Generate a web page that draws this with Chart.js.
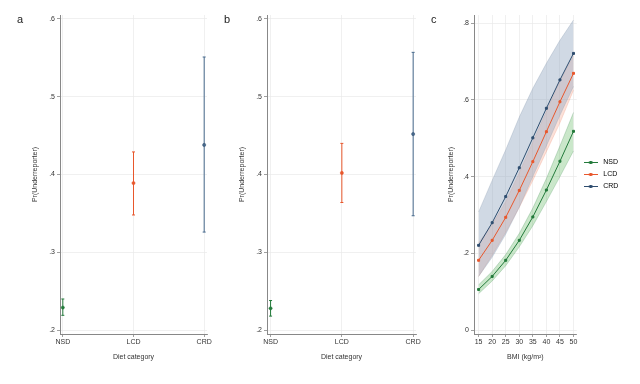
<!DOCTYPE html>
<html>
<head>
<meta charset="utf-8">
<script src="https://cdn.jsdelivr.net/npm/chart.js@4/dist/chart.umd.min.js"></script>
<style>
  body { margin: 0; background: #fff; }
  #wrap { position: relative; width: 640px; height: 384px; font-family: "Liberation Sans", Arial, sans-serif; }
  canvas { position: absolute; top: 0; }
  .lab { position: absolute; top: 13px; font-size: 11px; color: #222; }
</style>
</head>
<body>
<div id="wrap">
  <canvas id="chartA" width="215" height="384" style="left:0px"></canvas>
  <canvas id="chartB" width="215" height="384" style="left:215px"></canvas>
  <canvas id="chartC" width="210" height="384" style="left:430px"></canvas>
  <div class="lab" style="left:17px">a</div>
  <div class="lab" style="left:224px">b</div>
  <div class="lab" style="left:431px">c</div>
</div>
<script>
// 食事カテゴリ
const dietCats = ['NSD', 'LCD', 'CRD'];
// パネルa
const aMean = [0.229, 0.389, 0.438];
const aLow  = [0.219, 0.348, 0.326];
const aHigh = [0.240, 0.429, 0.551];
// パネルb
const bMean = [0.228, 0.402, 0.452];
const bLow  = [0.218, 0.364, 0.347];
const bHigh = [0.238, 0.440, 0.557];
// パネルc
const bmi = [15, 20, 25, 30, 35, 40, 45, 50];
const nsdMean = [0.106, 0.140, 0.182, 0.234, 0.295, 0.365, 0.440, 0.518];
const nsdLow  = [0.095, 0.128, 0.168, 0.217, 0.272, 0.335, 0.400, 0.467];
const nsdHigh = [0.118, 0.153, 0.197, 0.252, 0.318, 0.395, 0.480, 0.567];
const lcdMean = [0.182, 0.234, 0.294, 0.364, 0.439, 0.517, 0.595, 0.669];
const lcdLow  = [0.140, 0.195, 0.255, 0.320, 0.390, 0.465, 0.540, 0.625];
const lcdHigh = [0.228, 0.275, 0.335, 0.410, 0.490, 0.570, 0.650, 0.715];
const crdMean = [0.221, 0.280, 0.348, 0.423, 0.501, 0.578, 0.652, 0.721];
const crdLow  = [0.140, 0.190, 0.250, 0.320, 0.400, 0.480, 0.560, 0.635];
const crdHigh = [0.308, 0.390, 0.470, 0.555, 0.630, 0.695, 0.755, 0.808];
const catTicks = [0.2, 0.3, 0.4, 0.5, 0.6];
const bmiTicks = [15, 20, 25, 30, 35, 40, 45, 50];
const probTicks = [0, 0.2, 0.4, 0.6, 0.8];

const colNSD = '#237a3b';
const colLCD = '#e8572c';
const colCRD = '#2e4d6f';
const catColors = [colNSD, colLCD, '#46698c'];

const FONT = '"Liberation Sans", Arial, sans-serif';
Chart.defaults.font.family = FONT;
Chart.defaults.font.size = 7;
Chart.defaults.color = '#333';

function fmtProb(v) {
    if (v === 0) return '0';
    return v.toFixed(1).replace(/^0/, '');
}

function gridOpts() {
    return { color: '#e9e9e9', tickColor: '#777', tickLength: 3, lineWidth: 0.7 };
}

// エラーバー付きのカテゴリ図
function drawCatChart(id, mean, low, high, axisW, padLeft, padRight, xMin, xMax) {
    const datasets = [];
    for (let i = 0; i < dietCats.length; i++) {
        datasets.push({
            data: [{x: i, y: low[i]}, {x: i, y: high[i]}],
            showLine: true,
            borderColor: catColors[i],
            borderWidth: 1,
            pointStyle: 'line',
            pointRadius: 1.5,
            pointBorderColor: catColors[i],
            pointBorderWidth: 1,
            order: 1
        });
    }
    datasets.push({
        data: mean.map((v, i) => ({x: i, y: v})),
        showLine: false,
        pointRadius: 1.6,
        pointBackgroundColor: catColors,
        pointBorderColor: [colNSD, colLCD, colCRD],
        pointBorderWidth: 0.5,
        order: 0
    });
    return new Chart(document.getElementById(id), {
        type: 'scatter',
        data: { datasets: datasets },
        options: {
            responsive: false,
            animation: false,
            layout: { padding: { left: padLeft, right: padRight, top: 15, bottom: 23 } },
            plugins: { legend: { display: false }, tooltip: { enabled: false } },
            scales: {
                x: {
                    type: 'linear', min: xMin, max: xMax,
                    afterBuildTicks: s => { s.ticks = [0, 1, 2].map(v => ({value: v})); },
                    afterFit: s => { s.height = 27; },
                    ticks: { callback: v => dietCats[v], padding: 1, maxRotation: 0 },
                    grid: gridOpts(),
                    border: { color: '#888', width: 1 },
                    title: { display: true, text: 'Diet category', padding: 0 }
                },
                y: {
                    min: 0.195, max: 0.605,
                    afterBuildTicks: s => { s.ticks = catTicks.map(v => ({value: v})); },
                    afterFit: s => { s.width = axisW; },
                    ticks: { callback: v => fmtProb(v), padding: 2 },
                    grid: gridOpts(),
                    border: { color: '#888', width: 1 },
                    title: { display: true, text: 'Pr(Underreporter)', padding: 0 }
                }
            }
        }
    });
}

drawCatChart('chartA', aMean, aLow, aHigh, 29, 31, 8, -0.04, 2.04);
drawCatChart('chartB', bMean, bLow, bHigh, 29, 23, 14, -0.05, 2.04);

// 凡例用の線＋点マーカー
function legendMarker(color) {
    const c = document.createElement('canvas');
    c.width = 14; c.height = 5;
    const g = c.getContext('2d');
    g.strokeStyle = color; g.lineWidth = 1;
    g.beginPath(); g.moveTo(0, 2.5); g.lineTo(14, 2.5); g.stroke();
    g.fillStyle = color;
    g.fillRect(5.5, 1, 3, 3);
    return c;
}

function series(vals) {
    return vals.map((v, i) => ({x: bmi[i], y: v}));
}

function band(low, high, fillCol, edgeCol) {
    return [
        { data: series(high), showLine: true, pointRadius: 0, borderColor: edgeCol, borderWidth: 0.5,
          backgroundColor: fillCol, fill: '+1', order: 5, isBand: true },
        { data: series(low), showLine: true, pointRadius: 0, borderColor: edgeCol, borderWidth: 0.5,
          fill: false, order: 5, isBand: true }
    ];
}

function meanLine(label, vals, color) {
    return { label: label, data: series(vals), showLine: true, borderColor: color, borderWidth: 1,
        pointRadius: 1.4, pointStyle: 'rect', pointBackgroundColor: color, pointBorderColor: color,
        order: 0, marker: legendMarker(color) };
}

const cData = [].concat(
    band(crdLow, crdHigh, 'rgba(150,170,195,0.45)', 'rgba(120,140,165,0.5)'),
    band(lcdLow, lcdHigh, 'rgba(232,87,44,0.18)', 'rgba(232,87,44,0.35)'),
    band(nsdLow, nsdHigh, 'rgba(80,175,80,0.30)', 'rgba(35,122,59,0.45)'),
    [meanLine('NSD', nsdMean, colNSD), meanLine('LCD', lcdMean, colLCD), meanLine('CRD', crdMean, colCRD)]
);

new Chart(document.getElementById('chartC'), {
    type: 'scatter',
    data: { datasets: cData },
    options: {
        responsive: false,
        animation: false,
        layout: { padding: { left: 17, right: 20, top: 15, bottom: 23 } },
        plugins: {
            tooltip: { enabled: false },
            legend: {
                position: 'right',
                fullSize: false,
                labels: {
                    usePointStyle: true,
                    pointStyleWidth: 18,
                    padding: 5,
                    color: '#333',
                    filter: item => !cData[item.datasetIndex].isBand,
                    generateLabels: chart => chart.data.datasets.map((d, i) => ({
                        text: d.label, datasetIndex: i, pointStyle: d.marker,
                        fillStyle: d.borderColor, strokeStyle: d.borderColor, lineWidth: 0, hidden: false
                    }))
                }
            }
        },
        scales: {
            x: {
                type: 'linear', min: 13.3, max: 51.2,
                afterBuildTicks: s => { s.ticks = bmiTicks.map(v => ({value: v})); },
                afterFit: s => { s.height = 27; },
                ticks: { padding: 1, maxRotation: 0 },
                grid: gridOpts(),
                border: { color: '#888', width: 1 },
                title: { display: true, text: 'BMI (kg/m²)', padding: 0 }
            },
            y: {
                min: -0.01, max: 0.821,
                afterBuildTicks: s => { s.ticks = probTicks.map(v => ({value: v})); },
                afterFit: s => { s.width = 27; },
                ticks: { callback: v => fmtProb(v), padding: 2 },
                grid: gridOpts(),
                border: { color: '#888', width: 1 },
                title: { display: true, text: 'Pr(Underreporter)', padding: 0 }
            }
        }
    }
});
</script>
</body>
</html>
